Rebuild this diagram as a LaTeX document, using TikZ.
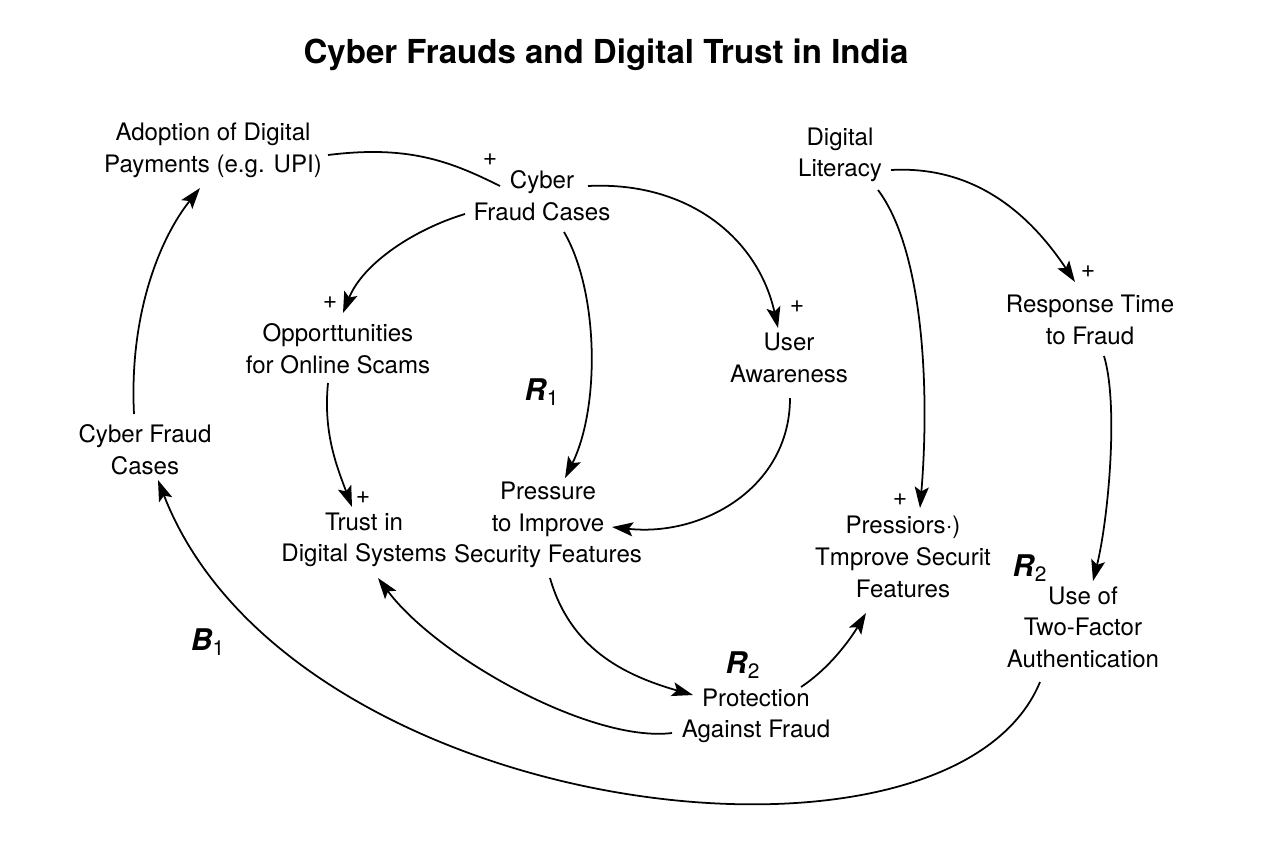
\documentclass[tikz,border=0pt]{standalone}
\usepackage{fontspec}
\setmainfont{TeX Gyre Heros}
\usetikzlibrary{arrows.meta}

\tikzset{
  var/.style={align=center, inner sep=0pt, font=\fontsize{13.7}{18}\selectfont},
  link/.style={line width=1pt, -{Stealth[length=12pt,width=8pt,inset=2.5pt]}},
  sign/.style={inner sep=0pt, font=\fontsize{14}{14}\selectfont},
  loopname/.style={inner sep=0pt, font=\fontsize{17}{17}\selectfont}
}

\begin{document}
\begin{tikzpicture}[x=0.02cm,y=-0.02cm]
  \useasboundingbox (0,0) rectangle (1280,853);

  \node[font=\fontsize{18.8}{22}\selectfont\bfseries] (title) at (606,55) {Cyber Frauds and Digital Trust in India};

  % variables
  \node[var] (adopt) at (213,150) {Adoption of Digital\\Payments (e.g. UPI)};
  \node[var] (cyb) at (542,196) {Cyber\\Fraud Cases};
  \node[var] (lit) at (840,155) {Digital\\Literacy};
  \node[var] (opp) at (338,349) {Opporttunities\\for Online Scams};
  \node[var] (user) at (789,358) {User\\Awareness};
  \node[var] (resp) at (1090,320) {Response Time\\to Fraud};
  \node[var] (cfc) at (145,450) {Cyber Fraud\\Cases};
  \node[var] (trust) at (364,540) {Trust in\\Digital Systems};
  \node[var] (press) at (548,525) {Pressure\\to Improve\\Security Features};
  \node[var] (press2) at (903,557) {Pressiors·)\\Tmprove Securit\\Features};
  \node[var] (tfa) at (1083,627) {Use of\\Two-Factor\\Authentication};
  \node[var] (prot) at (756,716) {Protection\\Against Fraud};

  % loop names
  \node[loopname] (r1) at (542,392) {\textbf{\textit{R}}\textsubscript{1}};
  \node[loopname] (r2a) at (743,665) {\textbf{\textit{R}}\textsubscript{2}};
  \node[loopname] (r2b) at (1030,568) {\textbf{\textit{R}}\textsubscript{2}};
  \node[loopname] (b1) at (208,642) {\textbf{\textit{B}}\textsubscript{1}};

  % polarities
  \node[sign] (s1) at (490,160) {+};
  \node[sign] (s2) at (330,303) {+};
  \node[sign] (s3) at (797,307) {+};
  \node[sign] (s4) at (1088,272) {+};
  \node[sign] (s5) at (363,498) {+};
  \node[sign] (s6) at (900,500) {+};

  % links
  \draw[line width=1pt] ([shift={(115,5)}]adopt.center) .. controls +(80,-10) and +(-50,-25) .. ([shift={(-42,-10)}]cyb.center);
  \draw[link] ([shift={(-77,18)}]cyb.center) .. controls +(-50,15) and +(20,-50) .. ([shift={(5,-36)}]opp.center);
  \draw[link] ([shift={(46,-10)}]cyb.center) .. controls +(100,-5) and +(-20,-90) .. ([shift={(-11,-30)}]user.center);
  \draw[link] ([shift={(22,36)}]cyb.center) .. controls +(35,60) and +(35,-70) .. ([shift={(17,-47)}]press.center);
  \draw[link] ([shift={(-10,34)}]opp.center) .. controls +(-5,50) and +(-15,-40) .. ([shift={(-12,-33)}]trust.center);
  \draw[link] ([shift={(1,40)}]user.center) .. controls +(0,90) and +(90,10) .. ([shift={(64,2)}]press.center);
  \draw[link] ([shift={(38,35)}]lit.center) .. controls +(45,60) and +(10,-120) .. ([shift={(17,-49)}]press2.center);
  \draw[link] ([shift={(51,15)}]lit.center) .. controls +(90,-5) and +(-40,-60) .. ([shift={(-15,-38)}]resp.center);
  \draw[link] ([shift={(14,36)}]resp.center) .. controls +(15,50) and +(15,-60) .. ([shift={(10,-46)}]tfa.center);
  \draw[link] ([shift={(2,53)}]press.center) .. controls +(20,70) and +(-70,-20) .. ([shift={(-63,-21)}]prot.center);
  \draw[link] ([shift={(45,-29)}]prot.center) .. controls +(30,-20) and +(-15,25) .. ([shift={(-37,56)}]press2.center);
  \draw[link] ([shift={(-84,17)}]prot.center) .. controls +(-80,10) and +(60,80) .. ([shift={(14,38)}]trust.center);
  \draw[link] ([shift={(-43,55)}]tfa.center) .. controls +(-90,218) and +(132,340) .. ([shift={(13,30)}]cfc.center);
  \draw[link] ([shift={(-11,-36)}]cfc.center) .. controls +(-5,-100) and +(-40,50) .. ([shift={(-13,38)}]adopt.center);
\end{tikzpicture}
\end{document}
